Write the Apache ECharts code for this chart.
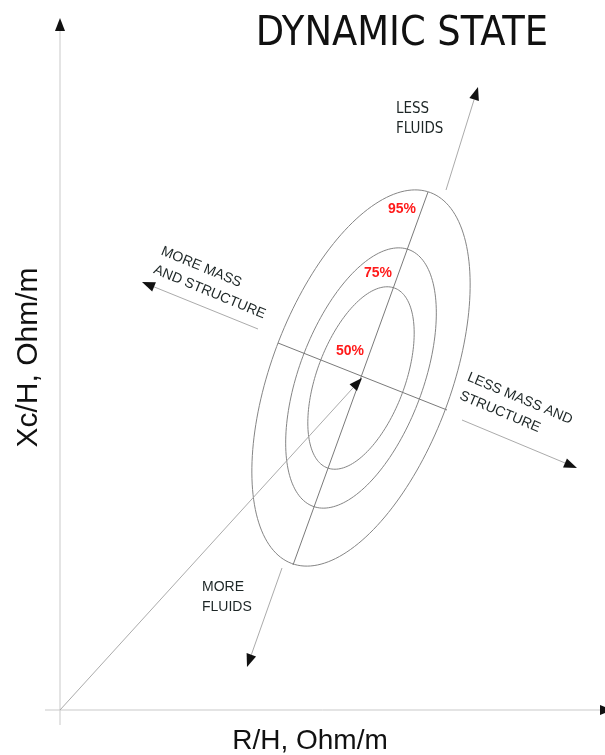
<!DOCTYPE html>
<html lang="en">
<head>
<meta charset="UTF-8">
<title>Dynamic State</title>
<style>
    html, body { margin: 0; padding: 0; background: #fff; }
    #chart { width: 605px; height: 755px; }
</style>
</head>
<body>
<div id="chart"></div>
<script src="https://cdn.jsdelivr.net/npm/echarts@6/dist/echarts.min.js"></script>
<script>
    // tolerance ellipses (axis units)
    var ellipseCenter = [301, 332];
    var levelNames = ['50%', '75%', '95%'];
    var semiMajor = [96, 137, 198];
    var semiMinor = [44, 62, 90];
    var tiltDeg = 69.5;

    // arrows, tail -> tip: [x1, y1, x2, y2]
    var arrowLines = [
        [0, -15, 0, 692],      // Xc/H axis
        [-15, 0, 553, 0],      // R/H axis
        [0, 0, 302, 332],      // origin -> mean
        [222, 142, 187, 43],   // more fluids
        [386, 520, 418, 623],  // less fluids
        [198, 381, 82, 428],   // more mass
        [402, 290, 517, 242]   // less mass
    ];
    // ellipse axes, no heads
    var crossLines = [
        [233, 145, 368, 518],
        [218, 367, 387, 300]
    ];

    var noteTexts = ['LESS\nFLUIDS', 'MORE\nFLUIDS', 'MORE MASS\nAND STRUCTURE', 'LESS MASS AND\nSTRUCTURE'];
    var noteAnchor = [[336, 591], [142, 113], [98, 450], [404, 324]];
    var noteRotate = [0, 0, -22.5, -22.8];
    var noteFont = ['"DejaVu Sans Condensed", sans-serif',
        '"Liberation Sans", Arial, sans-serif',
        '"Liberation Sans", Arial, sans-serif',
        '"Liberation Sans", Arial, sans-serif'];
    var noteSize = [15, 14, 14, 14];

    var pctAnchor = [[290, 359], [318, 437], [342, 501]];

    var chart = echarts.init(document.getElementById('chart'));

    function toRad(d) { return d * Math.PI / 180; }

    var option = {
        animation: false,
        backgroundColor: '#fff',
        title: {
            text: 'DYNAMIC STATE',
            right: 52,
            top: 9,
            textStyle: {
                fontFamily: '"DejaVu Sans Condensed", sans-serif',
                fontSize: 41,
                fontWeight: 'normal',
                color: '#111'
            }
        },
        grid: { left: 45, right: 0, top: 20, bottom: 30, outerBoundsMode: 'none', containLabel: false },
        xAxis: {
            type: 'value', min: -15, max: 545,
            name: 'R/H, Ohm/m',
            nameLocation: 'middle',
            nameGap: 2,
            nameTextStyle: {
                fontFamily: '"Liberation Sans", Arial, sans-serif',
                fontSize: 28, color: '#111', padding: [0, 30, 0, 0],
                verticalAlign: 'top'
            },
            axisLine: { show: false, onZero: true },
            axisTick: { show: false }, axisLabel: { show: false }, splitLine: { show: false }
        },
        yAxis: {
            type: 'value', min: -15, max: 690,
            name: 'Xc/H, Ohm/m',
            nameLocation: 'middle',
            nameGap: 1,
            nameTextStyle: {
                fontFamily: '"Liberation Sans", Arial, sans-serif',
                fontSize: 30, color: '#111', padding: [0, 0, 0, 30]
            },
            axisLine: { show: false, onZero: true },
            axisTick: { show: false }, axisLabel: { show: false }, splitLine: { show: false }
        },
        series: [
            {
                type: 'custom',
                name: 'ellipses',
                data: levelNames.map(function (n, i) { return [semiMajor[i], semiMinor[i]]; }),
                renderItem: function (params, api) {
                    var a = api.value(0), b = api.value(1);
                    var th = toRad(tiltDeg);
                    var pts = [];
                    for (var k = 0; k < 180; k++) {
                        var t = k / 180 * Math.PI * 2;
                        var x = ellipseCenter[0] + a * Math.cos(t) * Math.cos(th) - b * Math.sin(t) * Math.sin(th);
                        var y = ellipseCenter[1] + a * Math.cos(t) * Math.sin(th) + b * Math.sin(t) * Math.cos(th);
                        pts.push(api.coord([x, y]));
                    }
                    return {
                        type: 'polygon',
                        shape: { points: pts },
                        style: { fill: 'none', stroke: '#858585', lineWidth: 1 }
                    };
                }
            },
            {
                type: 'custom',
                name: 'cross',
                data: crossLines,
                renderItem: function (params, api) {
                    var p1 = api.coord([api.value(0), api.value(1)]);
                    var p2 = api.coord([api.value(2), api.value(3)]);
                    return {
                        type: 'line',
                        shape: { x1: p1[0], y1: p1[1], x2: p2[0], y2: p2[1] },
                        style: { stroke: '#7a7a7a', lineWidth: 1 }
                    };
                }
            },
            {
                type: 'custom',
                name: 'arrows',
                data: arrowLines,
                renderItem: function (params, api) {
                    var p1 = api.coord([api.value(0), api.value(1)]);
                    var p2 = api.coord([api.value(2), api.value(3)]);
                    var dx = p2[0] - p1[0], dy = p2[1] - p1[1];
                    var len = Math.sqrt(dx * dx + dy * dy);
                    var ux = dx / len, uy = dy / len;
                    var hl = 13, hw = 5;
                    var bx = p2[0] - ux * hl, by = p2[1] - uy * hl;
                    var lineColor = params.dataIndex < 2 ? '#c9c9c9' : '#ababab';
                    return {
                        type: 'group',
                        children: [
                            {
                                type: 'line',
                                shape: { x1: p1[0], y1: p1[1], x2: bx, y2: by },
                                style: { stroke: lineColor, lineWidth: 1 }
                            },
                            {
                                type: 'polygon',
                                shape: { points: [p2, [bx - uy * hw, by + ux * hw], [bx + uy * hw, by - ux * hw]] },
                                style: { fill: '#111' }
                            }
                        ]
                    };
                }
            },
            {
                type: 'custom',
                name: 'notes',
                data: noteTexts.map(function (t, i) { return noteAnchor[i]; }),
                renderItem: function (params, api) {
                    var i = params.dataIndex;
                    var p = api.coord([api.value(0), api.value(1)]);
                    return {
                        type: 'text',
                        x: p[0], y: p[1],
                        rotation: toRad(noteRotate[i]),
                        style: {
                            text: noteTexts[i],
                            fill: '#1d2626',
                            fontFamily: noteFont[i],
                            fontSize: noteSize[i],
                            lineHeight: 20,
                            align: 'left',
                            verticalAlign: 'middle'
                        }
                    };
                }
            },
            {
                type: 'custom',
                name: 'levels',
                data: pctAnchor,
                renderItem: function (params, api) {
                    var p = api.coord([api.value(0), api.value(1)]);
                    return {
                        type: 'text',
                        x: p[0], y: p[1],
                        style: {
                            text: levelNames[params.dataIndex],
                            fill: '#ff1a1a',
                            fontFamily: '"Liberation Sans", Arial, sans-serif',
                            fontSize: 14,
                            fontWeight: 'bold',
                            align: 'center',
                            verticalAlign: 'middle'
                        }
                    };
                }
            }
        ]
    };

    chart.setOption(option);
</script>
</body>
</html>
